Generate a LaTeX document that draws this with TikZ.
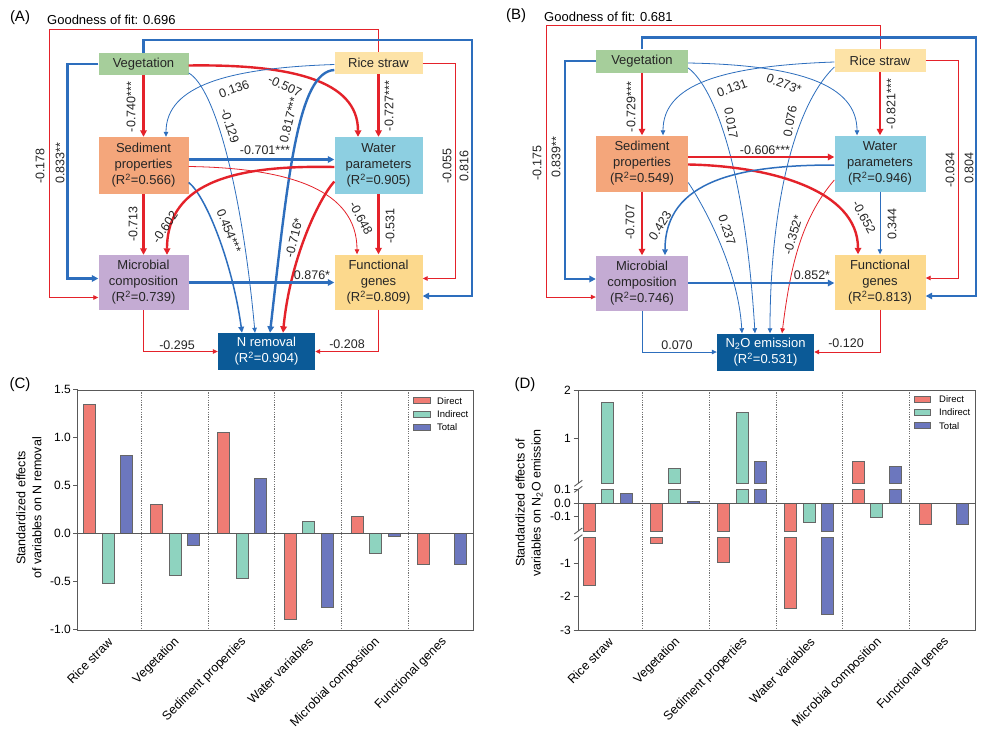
\documentclass[tikz,border=0pt]{standalone}
\usepackage{fontspec}
\setmainfont{Liberation Sans}
\usepackage{xcolor}
\usetikzlibrary{arrows.meta,calc}
\definecolor{vegc}{HTML}{A6CE9B}
\definecolor{strawc}{HTML}{FDE3A7}
\definecolor{sedc}{HTML}{F4A67B}
\definecolor{watc}{HTML}{8DCFE1}
\definecolor{micc}{HTML}{C4ABD3}
\definecolor{genec}{HTML}{FCD98D}
\definecolor{outc}{HTML}{0B5A97}
\definecolor{redc}{HTML}{E4222A}
\definecolor{bluec}{HTML}{2D6EBD}
\definecolor{dirc}{HTML}{F07C74}
\definecolor{indc}{HTML}{8ED3BF}
\definecolor{totc}{HTML}{6C77BE}

\begin{document}
\begin{tikzpicture}[x=1pt,y=-1pt,
    box/.style={inner sep=0pt,align=center,text=black!85,font=\fontsize{13}{16}\selectfont},
    coef/.style={inner sep=0pt,text=black!85,font=\fontsize{12.5}{14}\selectfont},
    tag/.style={inner sep=0pt,font=\fontsize{15}{17}\selectfont},
    gof/.style={inner sep=0pt,anchor=west,font=\fontsize{13}{15}\selectfont},
    thinln/.style={line width=0.8pt,-{Triangle[length=5pt,width=4.5pt]}},
    midln/.style={line width=1.5pt,-{Triangle[length=6pt,width=5.5pt]}},
    thickln/.style={line width=2.4pt,-{Triangle[length=6.5pt,width=6.5pt]}},
    rl/.style={draw=redc},
    bl/.style={draw=bluec},
    bar/.style={draw=black!60,line width=0.6pt},
    sepln/.style={draw=black!55,line width=0.6pt,dash pattern=on 1.2pt off 1.2pt},
    axln/.style={draw=black!65,line width=0.9pt},
    ticklab/.style={inner sep=0pt,anchor=east,font=\fontsize{12}{14}\selectfont},
    xlab/.style={inner sep=0pt,anchor=east,rotate=45,font=\fontsize{12.5}{14}\selectfont},
    ylab/.style={inner sep=0pt,align=center,rotate=90,font=\fontsize{12.5}{16}\selectfont},
    leg/.style={inner sep=0pt,anchor=west,font=\fontsize{9.5}{11}\selectfont}]
\useasboundingbox (0,0) rectangle (981,734);
\fill[white] (0,0) rectangle (981,734);

\node[tag] (tagA) at (20,18) {(A)};
\node[gof] (gofA) at (47,20) {Goodness of fit: 0.696};
\node[box,fill=vegc,minimum width=90pt,minimum height=22pt] (vegA) at (143.5,64) {Vegetation};
\node[box,fill=strawc,minimum width=88pt,minimum height=22pt] (strawA) at (378.5,63) {Rice straw};
\node[box,fill=sedc,minimum width=90pt,minimum height=57pt] (sedA) at (143.5,165.5) {Sediment\\properties\\(R\textsuperscript{2}=0.566)};
\node[box,fill=watc,minimum width=88pt,minimum height=57pt] (watA) at (378.5,165.5) {Water\\parameters\\(R\textsuperscript{2}=0.905)};
\node[box,fill=micc,minimum width=90pt,minimum height=55pt] (micA) at (143.5,282.5) {Microbial\\composition\\(R\textsuperscript{2}=0.739)};
\node[box,fill=genec,minimum width=88pt,minimum height=55pt] (funA) at (378.5,282) {Functional\\genes\\(R\textsuperscript{2}=0.809)};
\node[box,fill=outc,text=white,minimum width=97pt,minimum height=37pt] (nremA) at (266.5,351.5) {N removal\\(R\textsuperscript{2}=0.904)};

\draw[thinln,rl] (strawA.north) |- (49,29) |- ($(micA.west)+(0,15)$);
\draw[thickln,bl] (vegA.north) |- (472,40) |- ($(funA.east)+(0,14)$);
\draw[thickln,bl] (vegA.west) -- ++(-31,0) |- ($(micA.west)+(0,-4)$);
\draw[thinln,rl] (strawA.east) -- ++(33,0) |- ($(funA.east)+(0,-3.5)$);
\draw[thickln,rl] (vegA.south) -- (sedA.north);
\draw[thickln,rl] (strawA.south) -- (watA.north);
\draw[thickln,rl] ($(vegA.east)+(0,1.5)$) .. controls (290,64) and (358,80) .. ($(watA.north)+(-20.5,0)$);
\draw[thinln,bl] ($(strawA.west)+(0,1.5)$) .. controls (230,68) and (166,85) .. ($(sedA.north)+(22.5,0)$);
\draw[thinln,bl] ($(vegA.east)+(0,9)$) .. controls (215,88) and (242,190) .. ($(nremA.north)+(-11.5,0)$);
\draw[thickln,bl] ($(strawA.west)+(0,7)$) .. controls (298,72) and (288,175) .. ($(nremA.north)+(3.5,0)$);
\draw[thickln,bl] ($(sedA.east)+(0,-6)$) -- ($(watA.west)+(0,-6)$);
\draw[thinln,rl] ($(sedA.east)+(0,1)$) .. controls (290,168) and (357,190) .. ($(funA.north)+(-21.5,0)$);
\draw[midln,bl] ($(sedA.east)+(0,17)$) .. controls (205,195) and (232,260) .. ($(nremA.north)+(-24.5,0)$);
\draw[thickln,rl] (sedA.south) -- (micA.north);
\draw[thickln,rl] ($(watA.west)+(0,1.5)$) .. controls (240,165) and (167,180) .. ($(micA.north)+(23.5,0)$);
\draw[thickln,rl] ($(watA.west)+(0,16)$) .. controls (318,200) and (290,260) .. ($(nremA.north)+(16.5,0)$);
\draw[thickln,rl] (watA.south) -- (funA.north);
\draw[thickln,bl] (micA.east) -- (micA.east -| funA.west);
\draw[thinln,rl] (micA.south) |- (nremA.west);
\draw[thinln,rl] (funA.south) |- (nremA.east);

\node[coef,rotate=90] (lA1) at (40,166) {-0.178};
\node[coef,rotate=90] (lA2) at (60,163) {0.833**};
\node[coef,rotate=90] (lA3) at (447,166) {-0.055};
\node[coef,rotate=90] (lA4) at (464,166) {0.816};
\node[coef,rotate=90] (lA5) at (131,107) {-0.740***};
\node[coef,rotate=90] (lA6) at (389,106) {-0.727***};
\node[coef,rotate=-25] (lA7) at (285,86) {-0.507};
\node[coef,rotate=20] (lA8) at (234,89) {0.136};
\node[coef,rotate=-72] (lA9) at (230,126) {-0.129};
\node[coef,rotate=76] (lA10) at (289,120) {0.817***};
\node[coef] (lA11) at (265,150) {-0.701***};
\node[coef,rotate=-62] (lA12) at (361,218) {-0.648};
\node[coef,rotate=-68] (lA13) at (229,231) {0.454***};
\node[coef,rotate=90] (lA14) at (133,224) {-0.713};
\node[coef,rotate=56] (lA15) at (165,227) {-0.602};
\node[coef,rotate=76] (lA16) at (294,238) {-0.716*};
\node[coef,rotate=90] (lA17) at (390,226) {-0.531};
\node[coef] (lA18) at (312,275) {0.876*};
\node[coef] (lA19) at (177,345) {-0.295};
\node[coef] (lA20) at (347,344) {-0.208};

\node[tag] (tagB) at (516,16) {(B)};
\node[gof] (gofB) at (544,17) {Goodness of fit: 0.681};
\node[box,fill=vegc,minimum width=92pt,minimum height=23pt] (vegB) at (642,61) {Vegetation};
\node[box,fill=strawc,minimum width=91pt,minimum height=23pt] (strawB) at (880,60.5) {Rice straw};
\node[box,fill=sedc,minimum width=92pt,minimum height=56pt] (sedB) at (642,163.5) {Sediment\\properties\\(R\textsuperscript{2}=0.549)};
\node[box,fill=watc,minimum width=91pt,minimum height=56pt] (watB) at (880,163.5) {Water\\parameters\\(R\textsuperscript{2}=0.946)};
\node[box,fill=micc,minimum width=92pt,minimum height=55pt] (micB) at (642,283) {Microbial\\composition\\(R\textsuperscript{2}=0.746)};
\node[box,fill=genec,minimum width=91pt,minimum height=55pt] (funB) at (880,282) {Functional\\genes\\(R\textsuperscript{2}=0.813)};
\node[box,fill=outc,text=white,minimum width=97pt,minimum height=37pt] (n2oB) at (765.5,352) {N\textsubscript{2}O emission\\(R\textsuperscript{2}=0.531)};

\draw[thinln,rl] (strawB.north) |- (546,25) |- ($(micB.west)+(0,14)$);
\draw[thickln,bl] (vegB.north) |- (976,37.5) |- ($(funB.east)+(0,14)$);
\draw[thickln,bl] (vegB.west) -- ++(-31,0) |- ($(micB.west)+(0,-4)$);
\draw[thinln,rl] (strawB.east) -- ++(33,0) |- ($(funB.east)+(0,-4)$);
\draw[thickln,rl] (vegB.south) -- (sedB.north);
\draw[thickln,rl] (strawB.south) -- (watB.north);
\draw[thinln,bl] ($(vegB.east)+(0,2)$) .. controls (800,65) and (857,85) .. ($(watB.north)+(-23,0)$);
\draw[thinln,bl] ($(strawB.west)+(0,1.5)$) .. controls (720,66) and (663,85) .. ($(sedB.north)+(21,0)$);
\draw[thinln,bl] ($(vegB.east)+(0,7)$) .. controls (715,88) and (745,170) .. ($(n2oB.north)+(-10.5,0)$);
\draw[thinln,bl] ($(strawB.west)+(0,6.5)$) .. controls (790,110) and (770,220) .. ($(n2oB.north)+(4.5,0)$);
\draw[thickln,rl] ($(sedB.east)+(0,-6.5)$) -- ($(watB.west)+(0,-6.5)$);
\draw[thickln,rl] ($(sedB.east)+(0,1)$) .. controls (770,166) and (858,190) .. ($(funB.north)+(-22,0)$);
\draw[thinln,bl] ($(sedB.east)+(0,19)$) .. controls (700,200) and (738,265) .. ($(n2oB.north)+(-23.5,0)$);
\draw[thickln,rl] (sedB.south) -- (micB.north);
\draw[midln,bl] ($(watB.west)+(0,1.5)$) .. controls (740,165) and (665,180) .. ($(micB.north)+(23,0)$);
\draw[thinln,rl] ($(watB.west)+(0,16.5)$) .. controls (800,220) and (790,270) .. ($(n2oB.north)+(16.5,0)$);
\draw[thinln,bl] (watB.south) -- (funB.north);
\draw[thickln,bl] (micB.east) -- (micB.east -| funB.west);
\draw[thinln,bl] (micB.south) |- (n2oB.west);
\draw[thinln,rl] (funB.south) |- (n2oB.east);

\node[coef,rotate=90] (lB1) at (537,163) {-0.175};
\node[coef,rotate=90] (lB2) at (556,157) {0.839**};
\node[coef,rotate=90] (lB3) at (950,170) {-0.034};
\node[coef,rotate=90] (lB4) at (969,168) {0.804};
\node[coef,rotate=90] (lB5) at (631,107) {-0.729***};
\node[coef,rotate=90] (lB6) at (891,104) {-0.821***};
\node[coef,rotate=20] (lB7) at (732,88) {0.131};
\node[coef,rotate=-20] (lB8) at (784,84) {0.273*};
\node[coef,rotate=-80] (lB9) at (731,123) {0.017};
\node[coef,rotate=80] (lB10) at (790,121) {0.076};
\node[coef] (lB11) at (765,150) {-0.606***};
\node[coef,rotate=90] (lB12) at (630,222) {-0.707};
\node[coef,rotate=58] (lB13) at (660,226) {0.423};
\node[coef,rotate=-72] (lB14) at (727,230) {0.237};
\node[coef,rotate=74] (lB15) at (793,235) {-0.352*};
\node[coef,rotate=-62] (lB16) at (864,217) {-0.652};
\node[coef,rotate=90] (lB17) at (892,224) {0.344};
\node[coef] (lB18) at (812,275) {0.852*};
\node[coef] (lB19) at (677,345) {0.070};
\node[coef] (lB20) at (846,343) {-0.120};

\node[tag] (tagC) at (20,385) {(C)};
\foreach \i in {0,...,4} \draw[sepln] ({141+66.85*\i},390) -- ({141+66.85*\i},630);
\foreach \i/\vd/\vi/\vt in {0/1.34/-0.525/0.815,1/0.305/-0.435/-0.13,2/1.048/-0.47/0.57,3/-0.9/0.125/-0.775,4/0.18/-0.21/-0.035,5/-0.32/0/-0.32} {
  \pgfmathsetmacro\xo{83.5+66.85*\i}
  \filldraw[bar,fill=dirc] (\xo,533.3) rectangle ({\xo+12},{533.3-96*\vd});
  \filldraw[bar,fill=indc] ({\xo+18.6},533.3) rectangle ({\xo+30.6},{533.3-96*\vi});
  \filldraw[bar,fill=totc] ({\xo+37},533.3) rectangle ({\xo+49},{533.3-96*\vt});
}
\draw[axln] (77.7,390) rectangle (473.3,630);
\draw[axln] (77.7,533.3) -- (473.3,533.3);
\foreach \v/\lab [count=\cnt] in {1.5/1.5,1/1.0,0.5/0.5,0/0.0,-0.5/-0.5,-1/-1.0} {
  \draw[axln] (73,{533.3-96*\v}) -- (77.7,{533.3-96*\v});
  \node[ticklab] (tC\cnt) at (71,{533.3-96*\v}) {\lab};
}
\foreach \i/\lab in {0/Rice straw,1/Vegetation,2/Sediment properties,3/Water variables,4/Microbial composition,5/Functional genes}
  \node[xlab] (xC\i) at ({83.5+66.85*\i+27},640) {\lab};
\foreach \c/\lab [count=\cnt] in {dirc/Direct,indc/Indirect,totc/Total} {
  \filldraw[bar,fill=\c] (413,{384.4+13.3*\cnt}) rectangle (430,{390.4+13.3*\cnt});
  \node[leg] (lgC\cnt) at (437,{387.4+13.3*\cnt}) {\lab};
}
\node[ylab] (yC) at (29,508) {Standardized effects\\of variables on N removal};

\node[tag] (tagD) at (525,385) {(D)};
\foreach \x in {642.3,709.3,776.7,842.7,909.3} \draw[sepln] (\x,390) -- (\x,630);
\foreach \g/\o/\c/\ya/\yb in {0/0/dirc/503.3/531,0/0/dirc/537.7/585,0/18.5/indc/503.3/489.3,0/18.5/indc/483.3/402,0/37/totc/503.3/493,
    1/0/dirc/503.3/531,1/0/dirc/537.7/543.3,1/18.5/indc/503.3/489.3,1/18.5/indc/483.3/468.3,1/37/totc/503.3/501,
    2/0/dirc/503.3/531,2/0/dirc/537.7/562.7,2/18.5/indc/503.3/489.3,2/18.5/indc/483.3/412.3,2/37/totc/503.3/489.3,2/37/totc/483.3/461.7,
    3/0/dirc/503.3/531,3/0/dirc/537.7/608.7,3/18.5/indc/503.3/522,3/37/totc/503.3/531,3/37/totc/537.7/614.3,
    4/0/dirc/503.3/489.3,4/0/dirc/483.3/461,4/18.5/indc/503.3/517,4/37/totc/503.3/489.3,4/37/totc/483.3/466,
    5/0/dirc/503.3/524.7,5/37/totc/503.3/524.7}
  \filldraw[bar,fill=\c] ({583+67.2*\g+\o},\ya) rectangle ({583+67.2*\g+\o+12},\yb);
\draw[axln] (578.3,390) -- (975,390) -- (975,630) -- (578.3,630);
\draw[axln] (578.3,390) -- (578.3,483.3);
\draw[axln] (578.3,489.3) -- (578.3,531);
\draw[axln] (578.3,537.7) -- (578.3,630);
\draw[axln] (578.3,503.3) -- (975,503.3);
\foreach \y in {483.3,489.3,531,537.7} \draw[axln] (574.3,{\y+3}) -- (582.3,{\y-3});
\foreach \y/\lab [count=\cnt] in {390/2,438.3/1,489.3/0.1,503.3/0.0,516.7/-0.1,563.3/-1,596.7/-2,630/-3} {
  \draw[axln] (573.5,\y) -- (578.3,\y);
  \node[ticklab] (tD\cnt) at (571,\y) {\lab};
}
\foreach \i/\lab in {0/Rice straw,1/Vegetation,2/Sediment properties,3/Water variables,4/Microbial composition,5/Functional genes}
  \node[xlab] (xD\i) at ({583+67.2*\i+28},640) {\lab};
\foreach \c/\lab [count=\cnt] in {dirc/Direct,indc/Indirect,totc/Total} {
  \filldraw[bar,fill=\c] (914,{382.7+13.3*\cnt}) rectangle (930,{388.7+13.3*\cnt});
  \node[leg] (lgD\cnt) at (939,{385.7+13.3*\cnt}) {\lab};
}
\node[ylab] (yD) at (529,503) {Standardized effects of\\variables on N\textsubscript{2}O emission};
\end{tikzpicture}
\end{document}
